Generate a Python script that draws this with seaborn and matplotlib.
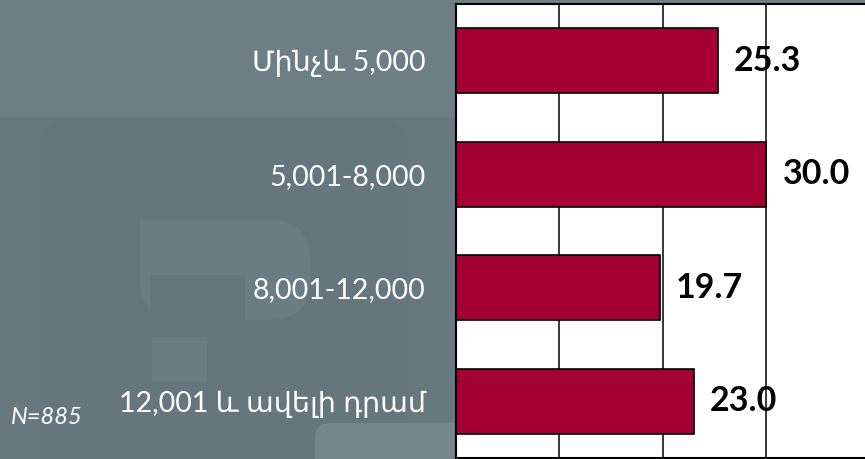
import pandas as pd
import seaborn as sns
import matplotlib.pyplot as plt
from matplotlib.patches import FancyBboxPatch, Rectangle

# income groups (AMD) and shares (%)
categories = ["Մինչև 5,000", "5,001-8,000", "8,001-12,000", "12,001 և ավելի դրամ"]
values = [25.3, 30.0, 19.7, 23.0]
note = "N=885"

df = pd.DataFrame({"group": categories, "share": values})

sns.set_style("white")
plt.rcParams["font.family"] = ["Lato", "DejaVu Sans"]

W, H = 865, 459
fig = plt.figure(figsize=(W / 100, H / 100), dpi=100)
fig.patch.set_facecolor("#67787f")

# faint background shapes (slide template)
bg = fig.add_axes([0, 0, 1, 1], zorder=-10)
bg.set_xlim(0, W)
bg.set_ylim(H, 0)
bg.axis("off")
bg.add_patch(Rectangle((0, 0), W, 118, color="#6d7e85", lw=0))
bg.add_patch(FancyBboxPatch((40, 118), 368, 400, boxstyle="round,pad=0,rounding_size=30",
                            color="#65767d", lw=0))
bg.add_patch(FancyBboxPatch((140, 220), 170, 100, boxstyle="round,pad=0,rounding_size=40",
                            color="#6c7c83", lw=0))
bg.add_patch(Rectangle((140, 220), 110, 45, color="#6c7c83", lw=0))
bg.add_patch(Rectangle((150, 275), 95, 48, color="#65767d", lw=0))
bg.add_patch(Rectangle((152, 337), 55, 45, color="#6c7c83", lw=0))
bg.add_patch(FancyBboxPatch((315, 423), 200, 80, boxstyle="round,pad=0,rounding_size=15",
                            color="#76868d", lw=0))

left, top, bottom = 455.5, 4, 458
ax = fig.add_axes([left / W, 1 - bottom / H, (870 - left) / W, (bottom - top) / H])
ax.set_facecolor("white")

sns.barplot(data=df, x="share", y="group", orient="h", color="#a50034",
            edgecolor="black", linewidth=1.2, width=0.573, saturation=1, ax=ax, zorder=2)

ax.set_xlim(0, 40)
ax.set_ylim(3.5, -0.5)
ax.set_xticks([10, 20, 30])
ax.set_xticklabels([])
ax.xaxis.grid(True, color="black", linewidth=1.1, zorder=0.5)
ax.set_axisbelow(True)
ax.set_xlabel("")
ax.set_ylabel("")
ax.tick_params(axis="y", length=0, pad=21.5, labelsize=20.5, labelcolor="white")
ax.tick_params(axis="x", length=0)
for s in ax.spines.values():
    s.set_color("black")
    s.set_linewidth(1.5)

for i, v in enumerate(values):
    ax.text(v + 1.55, i, f"{v:.1f}", va="center", ha="left", fontsize=24.5,
            fontweight="bold", color="black", zorder=0.3)

fig.text(11 / W, 1 - 418 / H, note, color="white", fontsize=17, style="italic",
         va="center", ha="left")

fig.savefig("out.png", dpi=100, facecolor=fig.get_facecolor())
